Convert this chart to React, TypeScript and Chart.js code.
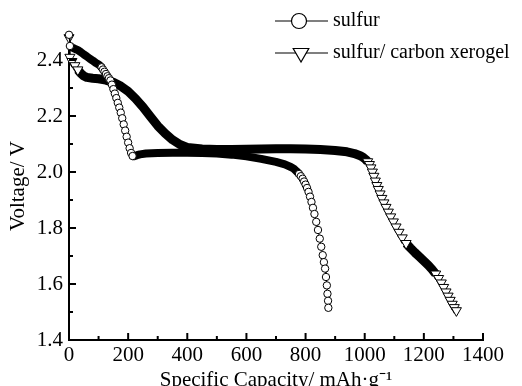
import React, { useEffect, useRef } from "react";
import { Chart, registerables } from "chart.js";

Chart.register(...registerables);

// ---- data ----
const seriesLabels = ["sulfur", "sulfur/ carbon xerogel"];

const sulfurCapacity = [
  0, 3, 10, 20, 30, 40, 50, 60, 70, 80, 90, 100,
  105, 110, 115, 120, 125, 130, 135, 140, 145, 150, 155, 160, 165, 170, 175, 180,
  185, 190, 195, 200, 205, 210, 215, 220, 230, 240, 260, 300, 350, 400, 450, 500,
  550, 600, 650, 700, 730, 750, 760, 766, 772, 778, 784, 790, 795, 800, 805, 810,
  815, 820, 825, 830, 836, 842, 848, 853, 858, 862, 866, 869, 872, 874, 876, 877,
];
const sulfurVoltage = [
  2.49, 2.45, 2.445, 2.44, 2.435, 2.428, 2.42, 2.413, 2.405, 2.398, 2.39, 2.384,
  2.38, 2.374, 2.366, 2.358, 2.35, 2.342, 2.335, 2.327, 2.312, 2.296, 2.28, 2.264, 2.247, 2.23, 2.212, 2.192,
  2.17, 2.148, 2.126, 2.105, 2.085, 2.068, 2.057, 2.056, 2.06, 2.063, 2.066, 2.068, 2.069, 2.069, 2.068, 2.066,
  2.062, 2.056, 2.047, 2.036, 2.027, 2.018, 2.012, 2.006, 2.0, 1.993, 1.985, 1.976, 1.966, 1.955, 1.943, 1.929,
  1.912, 1.893, 1.872, 1.85, 1.822, 1.793, 1.762, 1.733, 1.703, 1.678, 1.655, 1.625, 1.595, 1.565, 1.54, 1.515,
];

const xerogelCapacity = [
  0, 3, 10, 20, 30, 40, 50, 60, 80, 100, 125, 150, 175, 200, 225, 250, 275, 300,
  325, 350, 375, 400, 450, 500, 550, 600, 650, 700, 750, 800, 850, 900, 940, 965,
  985, 995, 1003, 1010, 1016, 1021, 1026, 1031, 1036, 1041, 1046, 1052, 1058, 1065,
  1072, 1080, 1088, 1097, 1106, 1116, 1127, 1140, 1155, 1170, 1185, 1200, 1215, 1228,
  1240, 1250, 1259, 1267, 1275, 1282, 1289, 1296, 1303, 1310,
];
const xerogelVoltage = [
  2.48, 2.41, 2.395, 2.38, 2.365, 2.352, 2.343, 2.338, 2.335, 2.333, 2.328, 2.32, 2.307, 2.288, 2.262, 2.232, 2.198, 2.165,
  2.138, 2.115, 2.098, 2.088, 2.082, 2.08, 2.08, 2.081, 2.082, 2.083, 2.083, 2.082, 2.08, 2.077, 2.072, 2.066,
  2.058, 2.052, 2.045, 2.037, 2.027, 2.015, 2.0, 1.985, 1.968, 1.952, 1.938, 1.922, 1.906, 1.89,
  1.874, 1.857, 1.84, 1.822, 1.804, 1.785, 1.765, 1.745, 1.728, 1.712, 1.697, 1.682, 1.667, 1.652,
  1.636, 1.62, 1.604, 1.588, 1.572, 1.557, 1.542, 1.528, 1.516, 1.505,
];

const xTickValues = [0, 200, 400, 600, 800, 1000, 1200, 1400];
const yTickValues = [1.4, 1.6, 1.8, 2.0, 2.2, 2.4];
const xMinorTicks = [100, 300, 500, 700, 900, 1100, 1300];
const yMinorTicks = [1.5, 1.7, 1.9, 2.1, 2.3];
const X_MIN = 0, X_MAX = 1400, Y_MIN = 1.4, Y_MAX = 2.5;

const xTitle = "Specific Capacity/ mAh·g⁻¹";
const yTitle = "Voltage/ V";

// ---- styling ----
const FONT = "'Liberation Serif', 'Times New Roman', serif";

function pxSlope(chart: any, a: any, b: any) {
  const ca = chart.chartArea;
  if (!ca) return 0;
  const px = ca.width / (X_MAX - X_MIN);
  const py = ca.height / (Y_MAX - Y_MIN);
  const dx = Math.abs(b.x - a.x) * px;
  const dy = Math.abs(b.y - a.y) * py;
  return dx === 0 ? 99 : dy / dx;
}

function pointSlope(ctx: any) {
  const data = ctx.dataset.data;
  const i = ctx.dataIndex;
  const cur = data[i];
  const prev = data[Math.max(0, i - 1)];
  const next = data[Math.min(data.length - 1, i + 1)];
  const s1 = i > 0 ? pxSlope(ctx.chart, prev, cur) : 0;
  const s2 = i < data.length - 1 ? pxSlope(ctx.chart, cur, next) : 0;
  return Math.max(s1, s2);
}

function segWidth(band: number, t: number) {
  return (ctx: any) => {
    const dx = Math.abs(ctx.p1.x - ctx.p0.x);
    const dy = Math.abs(ctx.p1.y - ctx.p0.y);
    const s = dx === 0 ? 99 : dy / dx;
    return s > t ? 1 : band;
  };
}

const innerTicks = {
  id: "innerTicks",
  afterDatasetsDraw(chart: any) {
    const { ctx, chartArea: ca, scales } = chart;
    const x = scales.x, y = scales.y;
    ctx.save();
    ctx.strokeStyle = "#000";
    ctx.lineWidth = 2;
    const draw = (x0: number, y0: number, x1: number, y1: number) => {
      ctx.beginPath();
      ctx.moveTo(x0, y0);
      ctx.lineTo(x1, y1);
      ctx.stroke();
    };
    xTickValues.forEach((v) => { const p = x.getPixelForValue(v); draw(p, ca.bottom, p, ca.bottom - 7); });
    xMinorTicks.forEach((v) => { const p = x.getPixelForValue(v); draw(p, ca.bottom, p, ca.bottom - 4); });
    yTickValues.forEach((v) => { const p = y.getPixelForValue(v); draw(ca.left, p, ca.left + 7, p); });
    yMinorTicks.forEach((v) => { const p = y.getPixelForValue(v); draw(ca.left, p, ca.left + 4, p); });
    ctx.restore();
  },
};

const manualLegend = {
  id: "manualLegend",
  afterDraw(chart: any) {
    const ctx = chart.ctx;
    const rows = [
      { y: 21, mx: 299, kind: "circle" },
      { y: 53, mx: 301, kind: "triangle" },
    ];
    ctx.save();
    rows.forEach((r, i) => {
      ctx.strokeStyle = "#000";
      ctx.lineWidth = 1.2;
      ctx.beginPath();
      ctx.moveTo(275, r.y);
      ctx.lineTo(328, r.y);
      ctx.stroke();
      ctx.beginPath();
      if (r.kind === "circle") {
        ctx.arc(r.mx, r.y, 7.5, 0, Math.PI * 2);
      } else {
        const rr = 9;
        ctx.moveTo(r.mx, r.y + rr);
        ctx.lineTo(r.mx - rr * 0.866, r.y - rr * 0.5);
        ctx.lineTo(r.mx + rr * 0.866, r.y - rr * 0.5);
        ctx.closePath();
      }
      ctx.fillStyle = "#fff";
      ctx.fill();
      ctx.stroke();
      ctx.fillStyle = "#000";
      ctx.font = `20px ${FONT}`;
      ctx.textAlign = "left";
      ctx.textBaseline = "middle";
      ctx.fillText(chart.data.datasets[i].label, 333, r.y);
    });
    ctx.restore();
  },
};

export default function App() {
  const ref = useRef<HTMLCanvasElement | null>(null);

  useEffect(() => {
    if (!ref.current) return;
    const sulfurPts = sulfurCapacity.map((c, i) => ({ x: c, y: sulfurVoltage[i] }));
    const xerogelPts = xerogelCapacity.map((c, i) => ({ x: c, y: xerogelVoltage[i] }));
    const T_S = 1.2;
    const T_X = 1.4;

    const chart = new Chart(ref.current, {
      type: "scatter",
      data: {
        datasets: [
          {
            label: seriesLabels[0],
            data: sulfurPts,
            showLine: true,
            borderColor: "#000",
            borderWidth: 8,
            borderJoinStyle: "round",
            segment: { borderWidth: segWidth(8, T_S) },
            pointStyle: "circle",
            pointRadius: (ctx: any) => (pointSlope(ctx) > T_S ? 3.7 : 0),
            pointBackgroundColor: "#fff",
            pointBorderColor: "#000",
            pointBorderWidth: 1,
            clip: false,
          } as any,
          {
            label: seriesLabels[1],
            data: xerogelPts,
            showLine: true,
            borderColor: "#000",
            borderWidth: 9,
            borderJoinStyle: "round",
            segment: { borderWidth: segWidth(9, T_X) },
            pointStyle: "triangle",
            pointRotation: 180,
            pointRadius: (ctx: any) => (pointSlope(ctx) > T_X ? 5.8 : 0),
            pointBackgroundColor: "#fff",
            pointBorderColor: "#000",
            pointBorderWidth: 1,
            clip: false,
          } as any,
        ],
      },
      options: {
        responsive: false,
        animation: false,
        devicePixelRatio: 1,
        layout: { padding: { left: 0, top: 32, right: 39, bottom: 0 } },
        plugins: { legend: { display: false }, tooltip: { enabled: false } },
        scales: {
          x: {
            type: "linear",
            min: X_MIN,
            max: X_MAX,
            afterFit: (s: any) => { s.height = 46; },
            afterBuildTicks: (s: any) => { s.ticks = xTickValues.map((v) => ({ value: v })); },
            grid: { display: false, drawTicks: false },
            border: { display: true, color: "#000", width: 2 },
            ticks: {
              padding: 3,
              color: "#000",
              font: { family: FONT, size: 21 },
              maxRotation: 0,
              autoSkip: false,
              callback: (v: any) => String(v),
            },
            title: {
              display: true,
              text: xTitle,
              color: "#000",
              font: { family: FONT, size: 21, lineHeight: 1 },
              padding: { top: 0, bottom: -5 },
            },
          },
          y: {
            type: "linear",
            min: Y_MIN,
            max: Y_MAX,
            afterFit: (s: any) => { s.width = 69; },
            afterBuildTicks: (s: any) => { s.ticks = yTickValues.map((v) => ({ value: v })); },
            grid: { display: false, drawTicks: false },
            border: { display: true, color: "#000", width: 2 },
            ticks: {
              padding: 6,
              color: "#000",
              font: { family: FONT, size: 21 },
              autoSkip: false,
              callback: (v: any) => Number(v).toFixed(1),
            },
            title: {
              display: true,
              text: yTitle,
              color: "#000",
              font: { family: FONT, size: 21, lineHeight: 1 },
              padding: { top: 7.5, bottom: 0 },
            },
          },
        },
      },
      plugins: [innerTicks, manualLegend],
    });
    return () => chart.destroy();
  }, []);

  return (
    <div style={{ position: "fixed", left: 0, top: 0, width: 522, height: 386, background: "#fff" }}>
      <canvas ref={ref} width={522} height={386} style={{ width: 522, height: 386 }} />
    </div>
  );
}
